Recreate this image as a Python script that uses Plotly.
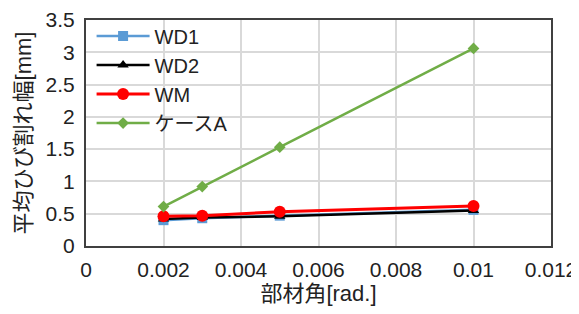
import plotly.graph_objects as go

x_vals = [0.002, 0.003, 0.005, 0.01]
wd1 = [0.40, 0.43, 0.47, 0.56]
wd2 = [0.42, 0.44, 0.46, 0.55]
wm = [0.46, 0.47, 0.53, 0.62]
case_a = [0.61, 0.92, 1.53, 3.06]

series = [
    ("WD1", wd1, "#5b9bd5", "square", 10, 2.5),
    ("WD2", wd2, "black", "triangle-up", 10, 2.5),
    ("WM", wm, "#ff0000", "circle", 12, 3),
    ("ケースA", case_a, "#70ad47", "diamond", 9, 2.5),
]

font_family = "Liberation Sans, Arial, Noto Sans CJK JP, sans-serif"

fig = go.Figure()
for name, ys, color, sym, size, lw in series:
    fig.add_trace(go.Scatter(
        x=x_vals, y=ys, name=name, mode="lines+markers",
        line=dict(color=color, width=lw),
        marker=dict(symbol=sym, size=size, color=color),
    ))

# page body has an 8px margin, so the figure is sized to fit inside it
fig.update_layout(
    width=571, height=306,
    margin=dict(l=78, r=28, t=9, b=68),
    paper_bgcolor="white", plot_bgcolor="white",
    font=dict(family=font_family, size=21, color="#222"),
    showlegend=True,
    legend=dict(x=0.012, y=1.015, xanchor="left", yanchor="top",
                bgcolor="rgba(255,255,255,0)", font=dict(size=20),
                tracegroupgap=0, itemwidth=53),
    xaxis=dict(range=[0, 0.012], dtick=0.002, tickformat="~g",
               showgrid=True, gridcolor="#d9d9d9", gridwidth=2,
               showline=True, linecolor="#404040", linewidth=2, mirror=True,
               zeroline=False, ticks="", ticklen=0, automargin=False,
               ticklabelstandoff=4,
               title=dict(text="部材角[rad.]", font=dict(size=22), standoff=5)),
    yaxis=dict(range=[0, 3.5], dtick=0.5, tickformat="~g",
               showgrid=True, gridcolor="#d9d9d9", gridwidth=2,
               showline=True, linecolor="#404040", linewidth=2, mirror=True,
               zeroline=False, ticks="", ticklen=0, automargin=False,
               ticklabelstandoff=5,
               title=dict(text="平均ひび割れ幅[mm]", font=dict(size=22), standoff=8)),
)

fig.write_html("out.html")
